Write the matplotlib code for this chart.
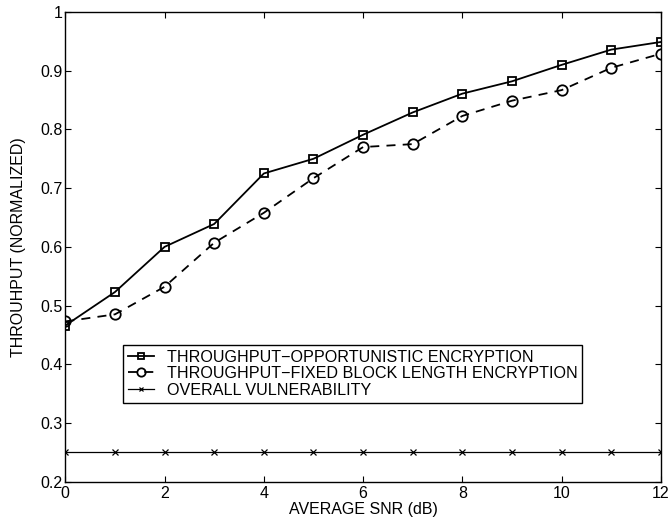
import numpy as np
import matplotlib
matplotlib.use("Agg")
import matplotlib.pyplot as plt
from matplotlib.ticker import FixedLocator, FixedFormatter

snr = [0, 1, 2, 3, 4, 5, 6, 7, 8, 9, 10, 11, 12]
tp_opportunistic = [0.466, 0.523, 0.600, 0.639, 0.725, 0.750, 0.791,
                    0.829, 0.861, 0.882, 0.910, 0.936, 0.949]
tp_fixed = [0.473, 0.485, 0.532, 0.607, 0.658, 0.717, 0.770,
            0.775, 0.823, 0.849, 0.867, 0.905, 0.929]
vulnerability = [0.25] * 13

yticks = [0.2, 0.3, 0.4, 0.5, 0.6, 0.7, 0.8, 0.9, 1.0]
ytick_labels = ["0.2", "0.3", "0.4", "0.5", "0.6", "0.7", "0.8", "0.9", "1"]
xticks = [0, 2, 4, 6, 8, 10, 12]

plt.rcParams.update({
    "font.family": ["Liberation Sans", "DejaVu Sans"],
    "font.size": 11.5,
    "xtick.direction": "in",
    "ytick.direction": "in",
    "xtick.top": True,
    "ytick.right": True,
    "xtick.major.size": 4,
    "ytick.major.size": 4,
    "xtick.major.pad": 3,
    "ytick.major.pad": 2,
})

fig = plt.figure(figsize=(6.69, 5.27), dpi=100)
ax = fig.add_axes([0.0976, 0.0860, 0.8904, 0.8912])

ax.plot(snr, tp_opportunistic, color="black", linestyle="-", linewidth=1.3,
        marker="s", markersize=6, markerfacecolor="none", markeredgewidth=1.3,
        label="THROUGHPUT\u2212OPPORTUNISTIC ENCRYPTION")
ax.plot(snr, tp_fixed, color="black", linestyle=(0, (5, 4)), linewidth=1.3,
        marker="o", markersize=7.5, markerfacecolor="none", markeredgewidth=1.3,
        label="THROUGHPUT\u2212FIXED BLOCK LENGTH ENCRYPTION")
ax.plot(snr, vulnerability, color="black", linestyle="-", linewidth=0.9,
        marker="x", markersize=4, markeredgewidth=0.9,
        label="OVERALL VULNERABILITY")

ax.set_xlim(0, 12)
ax.set_ylim(0.2, 1.0)
ax.xaxis.set_major_locator(FixedLocator(xticks))
ax.yaxis.set_major_locator(FixedLocator(yticks))
ax.yaxis.set_major_formatter(FixedFormatter(ytick_labels))
ax.set_xlabel("AVERAGE SNR (dB)", labelpad=1)
ax.set_ylabel("THROUHPUT (NORMALIZED)", labelpad=10)

for s in ax.spines.values():
    s.set_linewidth(1.0)

leg = ax.legend(loc="upper left", bbox_to_anchor=(0.0974, 0.2917),
                frameon=True, fancybox=False, edgecolor="black",
                framealpha=1, borderpad=0.3, labelspacing=0.1,
                handlelength=1.6, handletextpad=0.8, borderaxespad=0,
                markerscale=0.8, fontsize=11.6)
leg.get_frame().set_linewidth(1.0)

fig.savefig("out.png", dpi=100)
